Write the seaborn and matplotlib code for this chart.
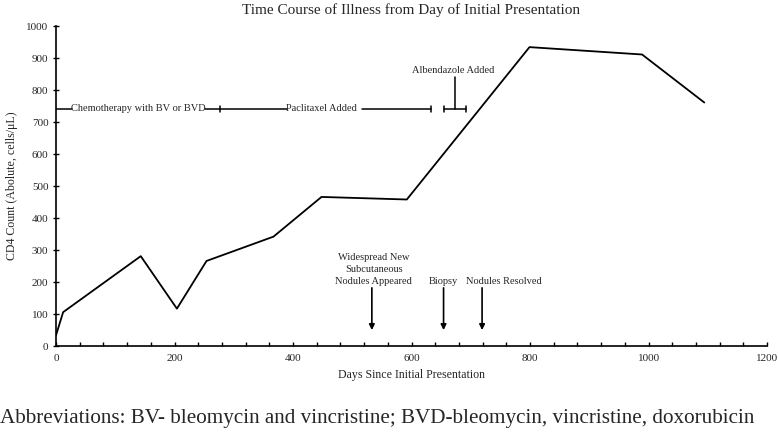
import matplotlib
matplotlib.use("Agg")
import matplotlib.pyplot as plt
import seaborn as sns
import pandas as pd
from matplotlib.ticker import MultipleLocator

days = [0, 12, 143, 204, 254, 367, 448, 592, 799, 989, 1094]
cd4 = [34, 106, 281, 117, 266, 342, 466, 458, 934, 911, 761]

title = "Time Course of Illness from Day of Initial Presentation"
xlabel = "Days Since Initial Presentation"
ylabel = "CD4 Count (Abolute, cells/\u03bcL)"
footnote = "Abbreviations: BV- bleomycin and vincristine; BVD-bleomycin, vincristine, doxorubicin"

event_days = [533, 654, 719]
event_labels = ["Widespread New\nSubcutaneous\nNodules Appeared", "Biopsy", "Nodules Resolved"]
event_label_x = [536, 653, 756]

sns.set_theme(style="white")
plt.rcParams["font.family"] = ["Liberation Serif", "DejaVu Serif"]

fig = plt.figure(figsize=(7.78, 4.37), dpi=100)
ax = fig.add_axes([0.072, 0.208, 0.914, 0.7325])

df = pd.DataFrame({"days": days, "cd4": cd4})
sns.lineplot(data=df, x="days", y="cd4", color="black", linewidth=1.3, ax=ax)

ax.set_xlim(0, 1200)
ax.set_ylim(0, 1000)
ax.xaxis.set_major_locator(MultipleLocator(200))
ax.xaxis.set_minor_locator(MultipleLocator(40))
ax.yaxis.set_major_locator(MultipleLocator(100))
for s in ["top", "right"]:
    ax.spines[s].set_visible(False)
for s in ["left", "bottom"]:
    ax.spines[s].set_color("black")
    ax.spines[s].set_linewidth(1.2)
ax.tick_params(axis="x", which="both", direction="in", length=3, width=1, color="black",
               labelsize=8, pad=6, bottom=True)
ax.tick_params(axis="y", which="major", direction="inout", length=4, width=1, color="black",
               labelsize=8, left=True)
ax.set_title(title, fontsize=11, pad=9)
ax.set_xlabel(xlabel, fontsize=8.6, labelpad=4)
ax.set_ylabel(ylabel, fontsize=8.6, labelpad=6)

# Therapy timeline
y_th = 741
lw = 1.1
ax.plot([0, 27], [y_th, y_th], color="black", lw=lw)
ax.text(139, y_th, "Chemotherapy with BV or BVD", fontsize=7.5, ha="center", va="center")
ax.plot([251, 276], [y_th, y_th], color="black", lw=lw)
ax.plot([276, 276], [y_th - 10, y_th + 10], color="black", lw=lw)
ax.plot([276, 389], [y_th, y_th], color="black", lw=lw)
ax.text(448, y_th, "Paclitaxel Added", fontsize=7.5, ha="center", va="center")
ax.plot([516, 632], [y_th, y_th], color="black", lw=lw)
ax.plot([632, 632], [y_th - 10, y_th + 10], color="black", lw=lw)
# Albendazole bracket
ax.plot([654, 692], [y_th, y_th], color="black", lw=lw)
ax.plot([654, 654], [y_th - 10, y_th + 10], color="black", lw=lw)
ax.plot([692, 692], [y_th - 10, y_th + 10], color="black", lw=lw)
ax.plot([674, 674], [y_th, 840], color="black", lw=lw)
ax.text(670, 848, "Albendazole Added", fontsize=7.5, ha="center", va="bottom")

# Event arrows
for d, lab, lx in zip(event_days, event_labels, event_label_x):
    ax.annotate("", xy=(d, 50), xytext=(d, 182),
                arrowprops=dict(arrowstyle="-|>", color="black", lw=1.2,
                                mutation_scale=8, shrinkA=0, shrinkB=0))
    ax.text(lx, 187, lab, fontsize=7.5, ha="center", va="bottom", linespacing=1.45)

fig.text(0.0, 0.043, footnote, fontsize=15.2, ha="left", va="center")

fig.savefig("out.png", dpi=100)
